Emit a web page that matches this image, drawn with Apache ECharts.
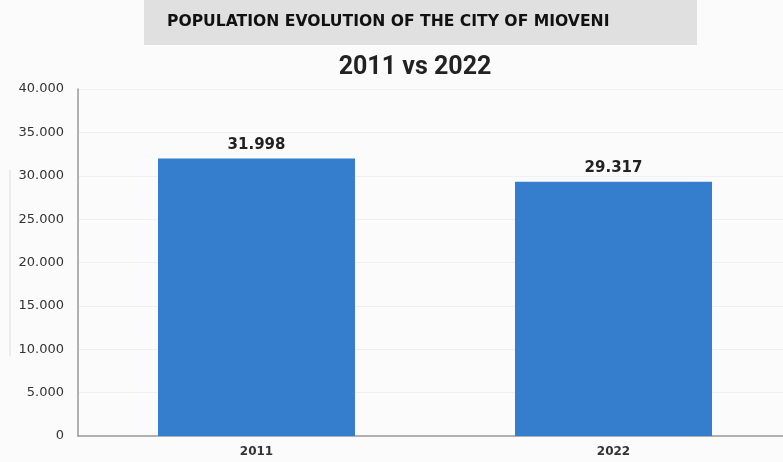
<!DOCTYPE html>
<html><head><meta charset="utf-8">
<script src="https://cdn.jsdelivr.net/npm/echarts@6/dist/echarts.min.js"></script>
<style>html,body{margin:0;padding:0;background:#fff}#c{width:783px;height:462px}</style>
</head><body><div id="c"></div>
<script>
const categories = ['2011', '2022'];
const population = [31998, 29317];
const yTicks = [0, 5000, 10000, 15000, 20000, 25000, 30000, 35000, 40000];

function fmt(v) { return String(v).replace(/\B(?=(\d{3})+(?!\d))/g, '.'); }

const chart = echarts.init(document.getElementById('c'));
chart.setOption({
  backgroundColor: '#fbfbfb',
  animation: false,
  graphic: [
    { type: 'rect', shape: { x: 144, y: 0, width: 553, height: 45 }, style: { fill: '#e0e0e0' } },
    { type: 'text', left: 167, top: 14, style: { text: 'POPULATION EVOLUTION OF THE CITY OF MIOVENI', font: 'bold 15.6px "DejaVu Sans"', fill: '#111' } },
    { type: 'line', shape: { x1: 10, y1: 170, x2: 10, y2: 356 }, style: { stroke: '#ddd', lineWidth: 1 } }
  ],
  title: {
    text: '2011 vs 2022', left: 410, top: 50, textAlign: 'center',
    textStyle: { fontFamily: 'Roboto, Arial', fontWeight: 'bold', fontSize: 25, color: '#222' }
  },
  grid: { left: 78, top: 89, width: 714, height: 347, outerBoundsMode: 'none' },
  xAxis: {
    type: 'category', data: categories,
    axisLine: { lineStyle: { color: '#999', width: 1.5 } },
    axisTick: { show: false },
    axisLabel: { color: '#333', fontSize: 12, fontFamily: '"DejaVu Sans"', fontWeight: 'bold', margin: 10 }
  },
  yAxis: {
    type: 'value', min: yTicks[0], max: yTicks[yTicks.length - 1], interval: yTicks[1] - yTicks[0],
    axisLine: { show: true, lineStyle: { color: '#999', width: 1.5 } },
    axisTick: { show: false },
    splitLine: { lineStyle: { color: '#f0f0f0' } },
    axisLabel: { color: '#333', fontSize: 13, fontFamily: '"DejaVu Sans"', margin: 14, formatter: v => fmt(v) }
  },
  series: [{
    type: 'bar', data: population, barWidth: 197,
    itemStyle: { color: '#357ece' },
    label: { show: true, position: 'top', distance: 6, color: '#222', fontSize: 15, fontWeight: 'bold', fontFamily: '"DejaVu Sans"', formatter: p => fmt(p.value) }
  }]
});
</script></body></html>
